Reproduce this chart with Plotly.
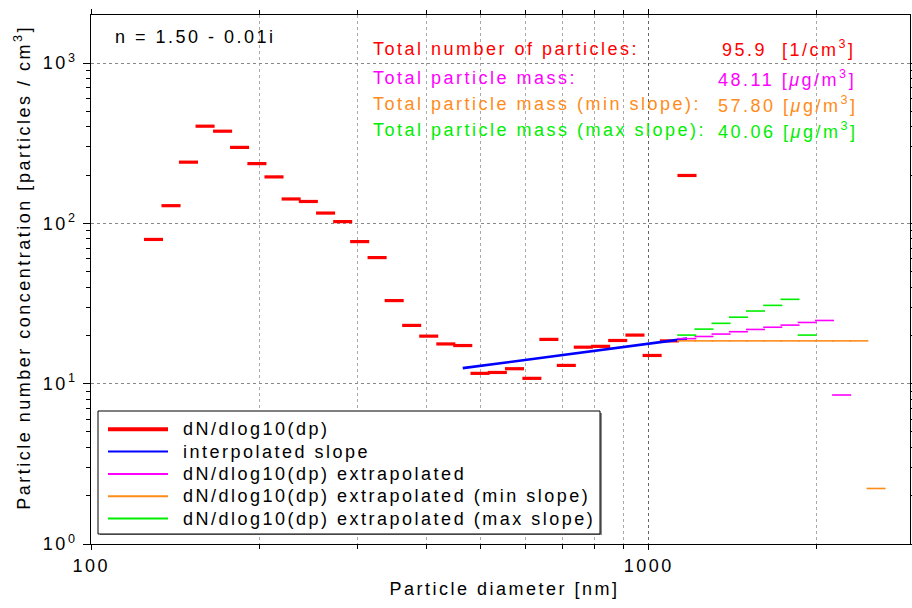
import plotly.graph_objects as go

# ---- data ----
diam_nm = [129.3, 139.0, 149.4, 160.0, 172.0, 184.5, 198.2, 212.7, 228.3, 245.1,
           263.2, 282.5, 303.0, 325.6, 349.4, 375.6, 403.0, 432.5, 463.8, 498.1,
           535.0, 574.3, 617.1, 662.0, 711.4, 763.1, 819.6, 879.6, 944.6, 1014,
           1089, 1171]
dNdlogdp = [79.4, 129, 241, 404, 376, 298, 236, 195, 142, 137,
            116, 102.6, 77, 61.2, 33, 23.1, 19.8, 17.7, 17.3, 11.6,
            11.75, 12.4, 10.8, 18.9, 13.0, 16.9, 17.1, 18.6, 20.1, 15.0,
            18.5, 199]

extrap_diam_nm = [1170, 1256, 1348, 1448, 1554, 1669, 1792, 1924, 2066, 2218, 2381, 2557]
extrap_vals = [19.1, 19.7, 20.4, 21.1, 21.8, 22.5, 23.2, 24.1, 24.8, 8.5]
extrap_min_vals = [18.5, 18.5, 18.5, 18.5, 18.5, 18.5, 18.5, 18.5, 18.5, 18.5, 18.5, 2.22]
extrap_max_vals = [20.1, 21.9, 23.8, 26.0, 28.4, 30.8, 33.6, 20.1]

slope_diam_nm = [463.8, 1171]
slope_vals = [12.5, 19.1]

y_tick_vals = [1, 10, 100, 1000]
y_tick_text = ["10<sup>0</sup>", "10<sup>1</sup>", "10<sup>2</sup>", "10<sup>3</sup>"]
x_tick_vals = [100, 1000]
x_tick_text = ["100", "1000"]
x_minor_vals = [200, 300, 400, 500, 600, 700, 800, 900, 2000]
y_minor_vals = [m * 10 ** e for e in range(0, 3) for m in range(2, 10)]

series_names = ["dN/dlog10(dp)", "interpolated slope", "dN/dlog10(dp) extrapolated",
                "dN/dlog10(dp) extrapolated (min slope)",
                "dN/dlog10(dp) extrapolated (max slope)"]

summary_labels = ["Total number of particles:", "Total particle mass:",
                  "Total particle mass (min slope):", "Total particle mass (max slope):"]
summary_values = ["95.9\u00a0\u00a0[1/cm<sup>3</sup>]",
                  "48.11 [<i>\u03bc</i>g/m<sup>3</sup>]",
                  "57.80 [<i>\u03bc</i>g/m<sup>3</sup>]",
                  "40.06 [<i>\u03bc</i>g/m<sup>3</sup>]"]

HALF = 10 ** 0.0171  # half bar width factor (log scale)


def steps(d, v):
    xs, ys = [], []
    for di, vi in zip(d, v):
        xs += [di / HALF, di * HALF, None]
        ys += [vi, vi, None]
    return xs, ys


RED = "#ff0000"
BLUE = "#0000ff"
MAG = "#ff00ff"
ORG = "#ff8c1a"
GRN = "#00ee00"
colors = [RED, BLUE, MAG, ORG, GRN]
widths = [3.2, 2.6, 1.6, 1.6, 1.6]
leg_widths = [4, 2, 2, 2, 2]

fig = go.Figure()
x, y = steps(diam_nm, dNdlogdp)
fig.add_trace(go.Scatter(x=x, y=y, mode="lines", line=dict(color=RED, width=widths[0]),
                         name=series_names[0], showlegend=False))
fig.add_trace(go.Scatter(x=slope_diam_nm, y=slope_vals, mode="lines",
                         line=dict(color=BLUE, width=widths[1]), name=series_names[1],
                         showlegend=False))
x, y = steps(extrap_diam_nm[:len(extrap_vals)], extrap_vals)
fig.add_trace(go.Scatter(x=x, y=y, mode="lines", line=dict(color=MAG, width=widths[2]),
                         name=series_names[2], showlegend=False))
x, y = steps(extrap_diam_nm[:len(extrap_min_vals)], extrap_min_vals)
fig.add_trace(go.Scatter(x=x, y=y, mode="lines", line=dict(color=ORG, width=widths[3]),
                         name=series_names[3], showlegend=False))
x, y = steps(extrap_diam_nm[:len(extrap_max_vals)], extrap_max_vals)
fig.add_trace(go.Scatter(x=x, y=y, mode="lines", line=dict(color=GRN, width=widths[4]),
                         name=series_names[4], showlegend=False))

FONT = "Liberation Sans, Arial, Helvetica, sans-serif"
FS = 18
L, R, T, B = 91, 2, 15, 64
PW = 912 - L - R
PH = 608 - T - B


def px(xp):
    return (xp - L) / PW


def py(yp):
    return (608 - B - yp) / PH


def text_ann(text, x, y, color="black", xanchor="left", align="left", angle=0):
    return dict(text=text, x=x, y=y, xref="paper", yref="paper",
                xanchor=xanchor, yanchor="middle", align=align, showarrow=False,
                textangle=angle, font=dict(size=FS, color=color, family=FONT))


ann = [text_ann("n = 1.50 - 0.01i", px(113), py(37))]
rows = [49, 78, 104, 130]
val_x = [720, 716, 716, 716]
for lab, val, c, ry, vx in zip(summary_labels, summary_values, [RED, MAG, ORG, GRN], rows, val_x):
    ann.append(text_ann(lab, px(371), py(ry), c))
    ann.append(text_ann(val, px(vx), py(ry), c))

# axis titles
ann.append(text_ann("Particle diameter [nm]", px(504), py(589), xanchor="center", align="center"))
ann.append(text_ann("Particle number concentration [particles / cm<sup>3</sup>]",
                    px(22), py(268), xanchor="center", align="center", angle=-90))

# legend (drawn manually)
shapes = [
    dict(type="rect", xref="paper", yref="paper", x0=px(100), x1=px(602), y0=py(535), y1=py(413),
         fillcolor="#8a8a8a", line=dict(width=0), layer="above"),
    dict(type="rect", xref="paper", yref="paper", x0=px(98), x1=px(600), y0=py(534), y1=py(411),
         fillcolor="white", line=dict(color="black", width=1), layer="above"),
]
for i, (name, c, w) in enumerate(zip(series_names, colors, leg_widths)):
    ry = 429.3 + 22.3 * i
    shapes.append(dict(type="line", xref="paper", yref="paper", x0=px(108), x1=px(168),
                       y0=py(ry), y1=py(ry), line=dict(color=c, width=w), layer="above"))
    ann.append(text_ann(name, px(181), py(ry)))

fig.update_layout(
    width=912, height=608,
    margin=dict(l=L, r=R, t=T, b=B),
    paper_bgcolor="white", plot_bgcolor="white",
    font=dict(family=FONT, size=FS, color="black"),
    showlegend=False,
    annotations=ann,
    shapes=shapes,
    xaxis=dict(type="log", range=[1.9995, 3.4686], tickvals=x_tick_vals, ticktext=x_tick_text,
               ticks="outside", ticklen=5, tickcolor="black", automargin=False,
               showline=True, linecolor="black", linewidth=1, mirror="allticks",
               showgrid=True, gridcolor="#666666", griddash="dot", gridwidth=1,
               zeroline=False,
               minor=dict(tickvals=x_minor_vals, ticks="outside", ticklen=4,
                          tickcolor="black", showgrid=True, gridcolor="#aaaaaa",
                          griddash="dot", gridwidth=1),
               tickfont=dict(size=FS)),
    yaxis=dict(type="log", range=[0, 3.3], tickvals=y_tick_vals, ticktext=y_tick_text,
               ticks="outside", ticklen=7, tickcolor="black", automargin=False,
               showline=True, linecolor="black", linewidth=1, mirror="allticks",
               showgrid=True, gridcolor="#888888", griddash="dot", gridwidth=1,
               zeroline=False, ticklabelstandoff=2,
               minor=dict(tickvals=y_minor_vals, ticks="outside", ticklen=4,
                          tickcolor="black", showgrid=False),
               tickfont=dict(size=FS)),
)

post = """
document.documentElement.style.margin = '0';
document.body.style.margin = '0';
document.body.style.padding = '0';
var st = document.createElement('style');
st.textContent = 'svg text { letter-spacing: 2.5px; }';
document.head.appendChild(st);
"""
fig.write_html("out.html", post_script=post, config={"displayModeBar": False})
